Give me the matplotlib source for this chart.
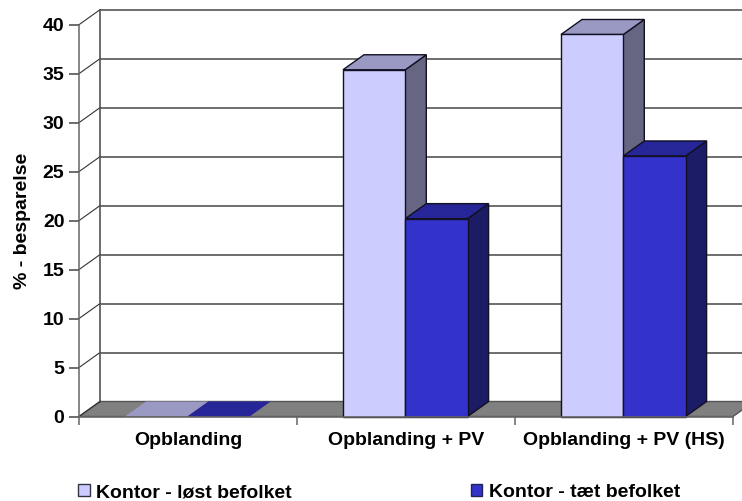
import matplotlib
matplotlib.use("Agg")
import matplotlib.pyplot as plt
from matplotlib.patches import Polygon, Patch

categories = ["Opblanding", "Opblanding + PV", "Opblanding + PV (HS)"]
series_names = ["Kontor - løst befolket", "Kontor - tæt befolket"]
light_values = [0, 35.4, 39.0]
dark_values = [0, 20.2, 26.6]
y_ticks = [0, 5, 10, 15, 20, 25, 30, 35, 40]

W, H = 742, 501
LEFT, RIGHT, BOTTOM, TOP = 79, 733, 416.5, 24.7

# depth of the fake 3D box, in data units
DX = 21 / ((RIGHT - LEFT) / 3)
DY = 15 / ((BOTTOM - TOP) / 40)
BAR_W = 62.3 / ((RIGHT - LEFT) / 3)
GAP = 46.0 / ((RIGHT - LEFT) / 3)

plt.rcParams["font.family"] = ["Liberation Sans", "DejaVu Sans"]
plt.rcParams["font.weight"] = "bold"
plt.rcParams["axes.labelweight"] = "bold"

fig = plt.figure(figsize=(W / 100, H / 100), dpi=100)
ax = fig.add_axes([LEFT / W, 1 - BOTTOM / H, (RIGHT - LEFT) / W, (BOTTOM - TOP) / H])
ax.set_xlim(0, 3)
ax.set_ylim(0, 40)
for side in ["top", "right"]:
    ax.spines[side].set_visible(False)
ax.spines["left"].set_color("#666666")
ax.spines["left"].set_linewidth(1.1)
ax.spines["bottom"].set_color("#666666")
ax.spines["bottom"].set_linewidth(1.1)
ax.spines["bottom"].set_zorder(20)


def poly(points, color, z, edge="#111122", lw=1.0):
    ax.add_patch(Polygon(points, closed=True, facecolor=color, edgecolor=edge,
                         linewidth=lw, clip_on=False, zorder=z, joinstyle="miter"))


def draw_bar(x, value, front, top, side, z):
    x2 = x + BAR_W
    if value > 0:
        poly([(x2, 0), (x2 + DX, DY), (x2 + DX, value + DY), (x2, value)], side, z)
        poly([(x, 0), (x2, 0), (x2, value), (x, value)], front, z + 0.2)
    poly([(x, value), (x2, value), (x2 + DX, value + DY), (x + DX, value + DY)], top, z + 0.1,
         edge=None if value == 0 else "#111122", lw=0 if value == 0 else 1.0)


# floor and back wall
poly([(0, 0), (3, 0), (3 + DX, DY), (DX, DY)], "#808080", 1, edge="#555555")
ax.plot([DX, DX], [DY, 40 + DY], color="#444444", lw=1.1, clip_on=False, zorder=2)
for t in y_ticks:
    ax.plot([0, DX], [t, t + DY], color="#333333", lw=0.8, clip_on=False, zorder=2)
    if t > 0:
        ax.plot([DX, 3 + 2 * DX], [t + DY, t + DY], color="#555555", lw=1.2,
                clip_on=False, zorder=2)

for i in range(len(categories)):
    x = i + GAP
    draw_bar(x, light_values[i], "#CCCCFF", "#9999C4", "#666682", 3 + i)
    draw_bar(x + BAR_W, dark_values[i], "#3333CC", "#262699", "#1B1B66", 3.5 + i)

ax.set_yticks(y_ticks)
ax.set_xticks([0, 1, 2, 3])
ax.set_xticklabels([])
ax.tick_params(axis="y", length=7, width=1.1, color="#444444", labelsize=14, pad=3.5)
ax.tick_params(axis="x", length=6, width=1.1, color="#666666")
for i, name in enumerate(categories):
    ax.annotate(name, xy=(i + 0.5, 0), xytext=(0, -17.5), textcoords="offset points",
                ha="center", va="center", fontsize=14, annotation_clip=False)
ax.set_ylabel("% - besparelse", fontsize=14)
ax.yaxis.set_label_coords(-48 / (RIGHT - LEFT), 0.5)

handles = [Patch(facecolor="#CCCCFF", edgecolor="#333344", linewidth=1),
           Patch(facecolor="#3333CC", edgecolor="#222255", linewidth=1)]
fig.legend(handles, series_names, loc="lower left", bbox_to_anchor=(72 / W, -6 / H), ncol=2,
           frameon=False, fontsize=14, handlelength=0.6, handleheight=0.6,
           handletextpad=0.35, columnspacing=9.2, borderaxespad=0.1, borderpad=0.2)

fig.savefig("out.png", dpi=100)
